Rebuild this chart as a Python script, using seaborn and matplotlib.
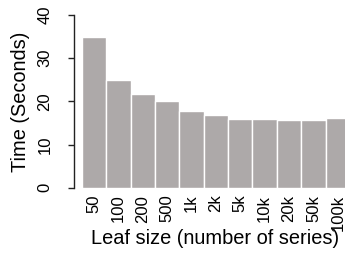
import pandas as pd
import matplotlib
matplotlib.use('Agg')
from matplotlib import pyplot as plt
import seaborn as sns

leaf_sizes = ['50', '100', '200', '500', '1k', '2k', '5k', '10k', '20k', '50k', '100k']
seconds = [34.9, 24.9, 21.7, 20.0, 17.7, 16.8, 15.9, 15.9, 15.7, 15.7, 16.1]

data = pd.DataFrame({'leaf': leaf_sizes, 'time': seconds})

sns.set_style('white')
plt.rcParams['font.family'] = ['Liberation Sans', 'DejaVu Sans']
plt.rcParams['text.color'] = 'black'
plt.rcParams['axes.labelcolor'] = 'black'
plt.rcParams['xtick.color'] = 'black'
plt.rcParams['ytick.color'] = 'black'

fig = plt.figure(figsize=(3.45, 2.57), dpi=100)
ax = fig.add_axes([0.2145, 0.2697, 0.820, 0.672])
sns.barplot(data=data, x='leaf', y='time', order=leaf_sizes,
            color='#ADA9A9', saturation=1, width=1,
            edgecolor='white', linewidth=1, ax=ax)

ax.set_xlim(-0.816, 10.78)
ax.set_ylim(0, 40)
ax.set_yticks([0, 10, 20, 30, 40])
for side in ['top', 'right', 'bottom']:
    ax.spines[side].set_visible(False)
ax.spines['left'].set_color('#222222')
ax.spines['left'].set_linewidth(1)
ax.tick_params(axis='y', left=True, length=4.5, width=1, color='#222222',
               pad=11, labelsize=12, labelrotation=90)
for lab in ax.get_yticklabels():
    lab.set_verticalalignment('center')
ax.tick_params(axis='x', bottom=False, length=0, pad=5, labelsize=12,
               labelrotation=90)

ax.set_xlabel('Leaf size (number of series)', fontsize=14.4, va='center')
ax.set_ylabel('Time (Seconds)', fontsize=14.4, va='center')
ax.xaxis.set_label_coords(0.5, -0.294)
ax.yaxis.set_label_coords(-0.19, 0.5)

fig.savefig('out.png', dpi=100)
